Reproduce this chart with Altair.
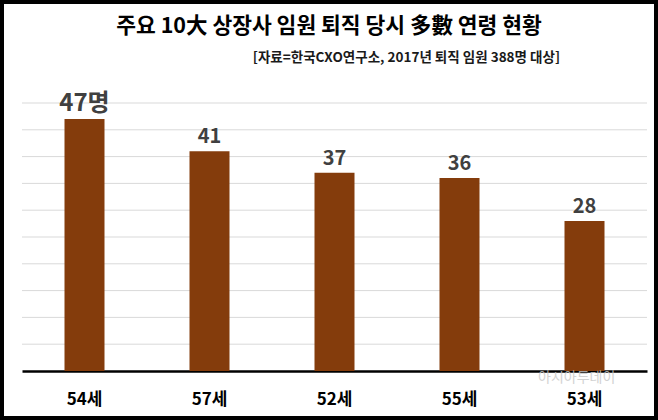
import altair as alt
import pandas as pd

ages = ["54세", "57세", "52세", "55세", "53세"]
counts = [47, 41, 37, 36, 28]
labels = ["47명", "41", "37", "36", "28"]
grid_values = [5, 10, 15, 20, 25, 30, 35, 40, 45, 50]

title_text = "주요 10大 상장사 임원 퇴직 당시 多數 연령 현황"
subtitle_text = "[자료=한국CXO연구소, 2017년 퇴직 임원 388명  대상]"
watermark_text = "아시아투데이"

df = pd.DataFrame({"age": ages, "count": counts, "label": labels})

FONT = "Noto Sans CJK KR"

yscale = alt.Scale(domain=[0, 50], nice=False)

x = alt.X("age:N", sort=ages, title=None,
          scale=alt.Scale(paddingInner=0.68, paddingOuter=0.34),
          axis=alt.Axis(labelAngle=0, labelFont=FONT, labelFontSize=17,
                        labelFontWeight="bold", labelColor="#000000",
                        labelPadding=20, ticks=False, domainColor="#000000",
                        domainWidth=2.5, grid=False))
y = alt.Y("count:Q", title=None, scale=yscale, axis=None)

grid = alt.Chart(pd.DataFrame({"g": grid_values})).mark_rule(
    color="#d9d9d9", strokeWidth=1).encode(
    y=alt.Y("g:Q", scale=yscale, axis=None))

base = alt.Chart(df)

bars = base.mark_bar(color="#843C0C").encode(x=x, y=y)

text = base.mark_text(font=FONT, fontWeight="bold", color="#404040",
                      baseline="alphabetic", dy=-8).encode(
    x=alt.X("age:N", sort=ages),
    y="count:Q",
    text="label:N",
    size=alt.condition(alt.datum.age == "54세", alt.value(24), alt.value(20)),
)

title = alt.Chart(pd.DataFrame({"t": [title_text]})).mark_text(
    font=FONT, fontSize=21.5, fontWeight="bold", color="#000000",
    align="center", baseline="middle").encode(
    text="t:N", x=alt.value(307), y=alt.value(-76))

subtitle = alt.Chart(pd.DataFrame({"t": [subtitle_text]})).mark_text(
    font=FONT, fontSize=13.5, fontWeight="bold", color="#1a1a1a",
    align="right", baseline="middle").encode(
    text="t:N", x=alt.value(538), y=alt.value(-45))

watermark = alt.Chart(pd.DataFrame({"t": [watermark_text]})).mark_text(
    font=FONT, fontSize=14, color="#c8c8c8", opacity=0.8,
    align="left", baseline="middle").encode(
    text="t:N", x=alt.value(516), y=alt.value(275))

frame = alt.Chart(pd.DataFrame({"a": [0]})).mark_rect(
    fill=None, fillOpacity=0, stroke="#000000", strokeWidth=4).encode(
    x=alt.value(-20), x2=alt.value(634), y=alt.value(-101), y2=alt.value(315))

chart = alt.layer(grid, bars, text, title, subtitle, watermark, frame).properties(
    width=625, height=268,
    autosize=alt.AutoSizeParams(type="none"),
    padding={"left": 22, "top": 103, "right": 11, "bottom": 49},
    background="#ffffff",
).configure_view(stroke=None)

chart.save("out.html", embed_options={"renderer": "svg", "actions": False})
